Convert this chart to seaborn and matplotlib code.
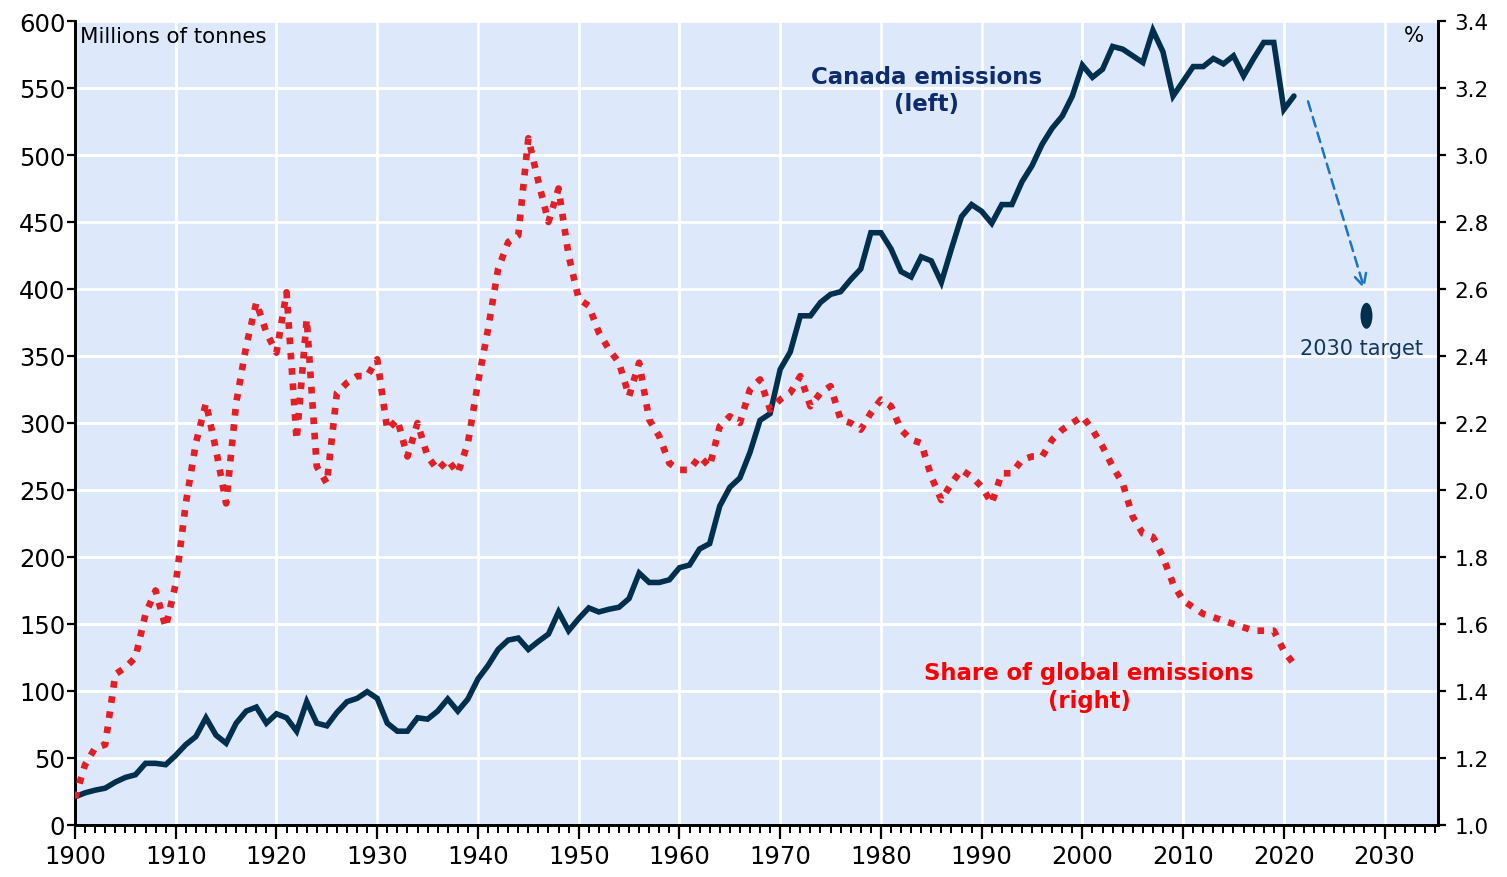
import numpy as np
import pandas as pd
import matplotlib
matplotlib.use("Agg")
import matplotlib.pyplot as plt
from matplotlib.path import Path
from matplotlib.transforms import Affine2D
from matplotlib.ticker import MultipleLocator, FormatStrFormatter
import seaborn as sns

# ---------------- data ----------------
years = list(range(1900, 2022))

canada_emissions = [
    21, 24, 26, 27.5, 32, 35.5, 37.5, 46, 46, 45,            # 1900-1909
    52, 60, 66, 80, 67, 61, 76, 85, 88, 76,                  # 1910-1919
    83, 80, 70, 92, 76, 74, 84, 92, 94.5, 99.5,              # 1920-1929
    94.5, 76, 70, 70, 80, 79, 85, 94, 85, 94,                # 1930-1939
    109, 119, 131, 138, 139.5, 131, 137, 142.5, 159, 145,    # 1940-1949
    154, 162, 159, 161, 162.5, 169, 188, 181, 181, 183,      # 1950-1959
    192, 194, 206, 210, 238, 252, 259, 278, 302, 307,        # 1960-1969
    340, 353, 380, 380, 390, 396, 398, 407, 415, 442,        # 1970-1979
    442, 430, 413, 409, 424, 421, 405, 430, 454, 463,        # 1980-1989
    458, 449, 463, 463, 480, 492, 508, 520, 529, 544,        # 1990-1999
    567, 558, 564, 581, 579, 574, 569, 593, 577, 544,        # 2000-2009
    555, 566, 566, 572, 568, 574, 559, 572, 584, 584,        # 2010-2019
    534, 544,                                                # 2020-2021
]

global_share = [
    1.08, 1.18, 1.23, 1.24, 1.45, 1.47, 1.50, 1.63, 1.70, 1.59,   # 1900-1909
    1.72, 1.96, 2.14, 2.26, 2.12, 1.96, 2.26, 2.43, 2.56, 2.47,   # 1910-1919
    2.41, 2.59, 2.15, 2.51, 2.07, 2.02, 2.29, 2.32, 2.34, 2.34,   # 1920-1929
    2.39, 2.18, 2.21, 2.10, 2.20, 2.10, 2.06, 2.09, 2.05, 2.14,   # 1930-1939
    2.32, 2.48, 2.66, 2.74, 2.76, 3.05, 2.92, 2.80, 2.90, 2.70,   # 1940-1949
    2.57, 2.55, 2.47, 2.42, 2.38, 2.28, 2.38, 2.21, 2.16, 2.08,   # 1950-1959
    2.06, 2.06, 2.10, 2.07, 2.19, 2.22, 2.20, 2.30, 2.33, 2.24,   # 1960-1969
    2.27, 2.29, 2.34, 2.25, 2.29, 2.31, 2.21, 2.20, 2.18, 2.23,   # 1970-1979
    2.27, 2.25, 2.18, 2.15, 2.14, 2.04, 1.97, 2.02, 2.06, 2.04,   # 1980-1989
    2.01, 1.96, 2.05, 2.05, 2.09, 2.10, 2.10, 2.15, 2.18, 2.20,   # 1990-1999
    2.22, 2.18, 2.13, 2.07, 2.02, 1.92, 1.87, 1.86, 1.80, 1.72,   # 2000-2009
    1.67, 1.65, 1.63, 1.62, 1.61, 1.60, 1.59, 1.58, 1.58, 1.58,   # 2010-2019
    1.52, 1.48,                                                   # 2020-2021
]

target_year = [2028.2]
target_value = [380]

left_ticks = list(range(0, 601, 50))
right_ticks = [1.0, 1.2, 1.4, 1.6, 1.8, 2.0, 2.2, 2.4, 2.6, 2.8, 3.0, 3.2, 3.4]
x_ticks = list(range(1900, 2031, 10))

df = pd.DataFrame({"year": years, "canada": canada_emissions, "share": global_share})
target_df = pd.DataFrame({"year": target_year, "value": target_value})

# ---------------- style ----------------
sns.set_style("ticks")
plt.rcParams["font.family"] = ["DejaVu Sans"]
plt.rcParams["text.color"] = "black"
plt.rcParams["xtick.color"] = "black"
plt.rcParams["ytick.color"] = "black"
plt.rcParams["xtick.labelcolor"] = "black"
plt.rcParams["ytick.labelcolor"] = "black"

NAVY = "#00304e"
RED = "#e31e24"
BG = "#dde9fb"

fig = plt.figure(figsize=(15.07, 8.78), dpi=100)
ax = fig.add_axes([75 / 1507, 1 - 826 / 878, 1363 / 1507, 804 / 878])
ax.set_facecolor(BG)

sns.lineplot(data=df, x="year", y="canada", ax=ax, color=NAVY, lw=4.0,
             solid_joinstyle="miter", zorder=3)

ellipse = Path.unit_circle().transformed(Affine2D().scale(0.46, 1.0))
sns.scatterplot(data=target_df, x="year", y="value", ax=ax, marker=ellipse,
                s=350, color=NAVY, edgecolor="none", zorder=5)

ax.annotate("", xy=(2028.0, 400), xytext=(2022.4, 540),
            arrowprops=dict(arrowstyle="->", color="#1b74c6", lw=1.8,
                            linestyle=(0, (4, 2.5)), mutation_scale=22,
                            shrinkA=0, shrinkB=0), zorder=4)

ax2 = ax.twinx()
sns.lineplot(data=df, x="year", y="share", ax=ax2, color=RED, lw=4.8,
             linestyle=(0, (1, 1.3)), dash_capstyle="butt", zorder=4)

# axes limits and ticks
ax.set_xlim(1900, 2035.3)
ax.set_ylim(0, 600)
ax2.set_ylim(1.0, 3.4)
ax.set_xticks(x_ticks)
ax.xaxis.set_minor_locator(MultipleLocator(1))
ax.set_yticks(left_ticks)
ax2.set_yticks(right_ticks)
ax2.yaxis.set_major_formatter(FormatStrFormatter("%.1f"))

ax.set_xlabel("")
ax.set_ylabel("")
ax2.set_xlabel("")
ax2.set_ylabel("")

ax.grid(True, which="major", color="white", lw=2)
ax.set_axisbelow(True)
ax2.grid(False)

for a in (ax, ax2):
    a.spines["top"].set_visible(False)
    for s in ("left", "right", "bottom"):
        a.spines[s].set_linewidth(2)
        a.spines[s].set_color("black")

ax.tick_params(axis="x", which="major", length=10, width=1.6, direction="out",
               labelsize=17.5, pad=4, colors="black")
ax.tick_params(axis="x", which="minor", length=6, width=1.4, direction="out",
               colors="black")
ax.tick_params(axis="y", which="major", length=6, width=1.6, direction="out",
               labelsize=17.5, pad=1, colors="black")
ax2.tick_params(axis="y", which="major", length=6, width=1.6, direction="out",
                labelsize=15.5, pad=6, colors="black")

# texts
ax.text(0.004, 0.994, "Millions of tonnes", transform=ax.transAxes,
        ha="left", va="top", fontsize=15.4, color="black")
ax.text(0.982, 0.983, "%", transform=ax.transAxes, ha="center", va="center",
        fontsize=15.4, color="black")
ax.text(0.625, 0.914, "Canada emissions\n(left)", transform=ax.transAxes,
        ha="center", va="center", fontsize=16.5, fontweight="bold",
        color="#0e2b6b", linespacing=1.25)
ax.text(0.744, 0.172, "Share of global emissions\n(right)", transform=ax.transAxes,
        ha="center", va="center", fontsize=16.4, fontweight="bold",
        color="#ff0000", linespacing=1.25)
ax.text(0.944, 0.593, "2030 target", transform=ax.transAxes,
        ha="center", va="center", fontsize=15, color="#14375a")

fig.savefig("out.png", dpi=100)
